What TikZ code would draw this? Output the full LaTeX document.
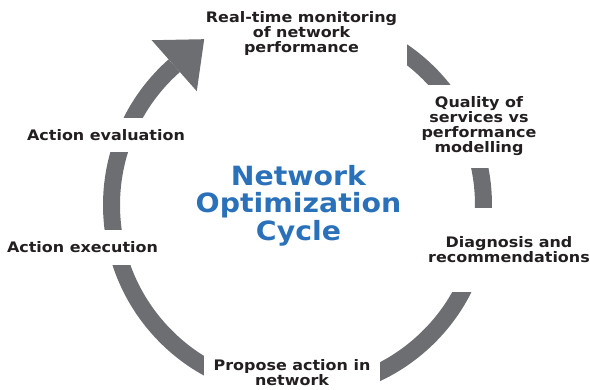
\documentclass[tikz,border=0pt]{standalone}
\usepackage{fontspec}
\setmainfont{DejaVu Sans}
\newfontfamily\labelfont[FakeStretch=1.1]{DejaVu Sans}
\newfontfamily\titlefont[FakeStretch=1.07]{DejaVu Sans}
\usepackage{xcolor}
\usepackage{tikz}
\usetikzlibrary{calc}
\definecolor{ringgray}{RGB}{109,110,114}
\definecolor{labeltext}{RGB}{35,31,32}
\definecolor{titleblue}{RGB}{43,113,185}

\begin{document}
\begin{tikzpicture}[x=1pt, y=1pt, font=\labelfont\bfseries\fontsize{14.5}{15}\selectfont, text=labeltext]
  \tikzstyle{cut}=[fill=white, inner sep=0pt, align=center]
  \tikzstyle{ring}=[ringgray, line width=17pt]
  \useasboundingbox (0,0) rectangle (590,390);
  \coordinate (C) at (297.5,185);
  \coordinate (head) at ($(C)+(131.5:186)$);
  % ring, the labels cut it into pieces
  \draw[ring] (head) arc[start angle=131.5, end angle=440, radius=186];
  \node[cut, minimum width=211pt, minimum height=68pt] (monitor) at (301.5,356) {Real-time monitoring\\of network\\performance};
  \node[cut, minimum width=125pt, minimum height=83pt] (qos) at (479,263.5) {Quality of\\services vs\\performance\\modelling};
  \node[cut, minimum width=166pt, minimum height=84pt] (diag) at (509,140) {Diagnosis and\\recommendations};
  \node[cut, minimum width=176pt, minimum height=46pt] (propose) at (292,17) {Propose action in\\network};
  \node[cut, minimum width=162pt, minimum height=35pt] (exec) at (82.5,142.5) {Action execution};
  \node[cut, minimum width=166pt, minimum height=34pt] (eval) at (106,255) {Action evaluation};
  % arrow head
  \fill[ringgray] ($(head)+(131.5:34)$) -- ($(head)+(41.5:40)$) -- ($(head)+(-48.5:34)$) -- cycle;
  \node[align=center, text=titleblue, font=\titlefont\bfseries\fontsize{26.5}{27.5}\selectfont] (title) at (298.5,184.5) {Network\\Optimization\\Cycle};
\end{tikzpicture}
\end{document}
